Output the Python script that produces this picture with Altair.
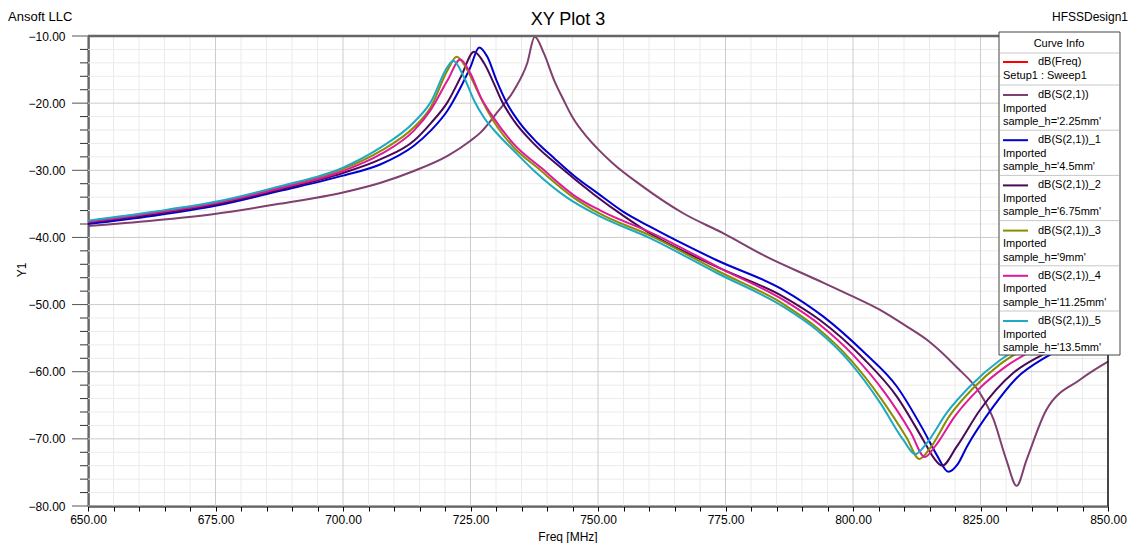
import altair as alt
import pandas as pd

# ---------------- data ----------------
F_225 = [650, 662.5, 674.8, 687.5, 700, 707.4, 713.9, 720.5, 725, 727, 730, 733.5, 736.1, 737.6,
         739.4, 741.4, 743.3, 745, 747.9, 750, 753.1, 758.2, 766.7, 774.6, 783.1, 792.9, 799.4, 805.3, 810, 815.1,
         820.3, 824.9, 827.5, 830.1, 832.1, 834.0, 837.9, 844.5, 850]
DB_225 = [-38.3, -37.5, -36.5, -35.0, -33.3, -31.85, -30.1, -27.85, -25.6, -24.35, -21.6, -18.1, -14.1, -10.1,
          -12.6, -16.6, -19.6, -22.1, -25.1, -26.85, -29.1, -32.1, -36.4, -39.4, -42.9, -46.3, -48.6, -50.8, -53.0, -55.6,
          -59.3, -63.2, -67.0, -73.2, -77.0, -73.2, -65.7, -61.2, -58.5]

F_45 = [650, 662.5, 675, 687.5, 700, 707.4, 713.9, 717.2, 720.5, 723.1, 725, 726.7, 728.3, 730.1, 732.2, 734.8,
        738.1, 741.4, 745.3, 749.9, 755, 760.2, 773.3, 786.3, 794.2, 802, 808.6, 813.8, 816.5, 818.7, 820.5, 822.3, 827.5,
        832, 837.9, 844, 850]
DB_45 = [-38.0, -36.8, -35.3, -33.1, -30.8, -29.1, -26.35, -24.1, -21.1, -17.6, -14.6, -11.7, -13.1, -16.6, -20.1, -23.1,
         -25.9, -28.2, -30.8, -33.4, -36.2, -38.4, -43.4, -47.8, -51.8, -57.0, -62.2, -68.7, -72.5, -74.9, -73.8, -71.2, -65.2,
         -61.0, -57.8, -55.5, -53.5]

F_675 = [650, 662.5, 675, 687.5, 700, 707.4, 713.9, 717.2, 720.5, 723.1, 725.7, 727.7, 729.6, 731, 733.5, 737.5,
         742.7, 749.2, 755, 760.2, 773.3, 786.3, 793.5, 802, 808.6, 813.8, 815.8, 817.5, 820.3, 824.9, 831.4, 836.6, 843, 850]
DB_675 = [-37.8, -36.6, -35.1, -32.9, -30.4, -28.35, -25.6, -23.0, -19.85, -16.1, -12.35, -14.1, -17.1, -19.5, -22.6, -26.1,
          -29.6, -33.6, -36.8, -39.4, -44.4, -48.8, -52.3, -58.0, -63.7, -70.2, -72.8, -74.0, -71.2, -65.7, -60.2, -57.7, -55.5, -53.5]

F_9 = [650, 662.5, 675, 687.5, 700, 707.4, 713.9, 717.2, 720.5, 722.3, 724.4, 726.3, 728.3, 730.3, 733.5, 738.1, 745.3,
       750, 760.5, 773.5, 786.5, 793, 799.5, 805.5, 810.5, 813, 815, 819, 823.5, 829, 835, 842, 850]
DB_9 = [-37.6, -36.3, -34.8, -32.5, -29.8, -27.1, -23.6, -20.6, -15.1, -13.1, -15.1, -18.1, -21.1, -23.6, -26.6, -29.6, -34.1,
        -36.3, -39.8, -45.0, -50.0, -53.5, -58.2, -64.0, -69.8, -73.0, -71.5, -66.5, -62.5, -58.8, -56.0, -53.5, -51.5]

F_1125 = [650, 662.5, 675, 687.5, 700, 707.4, 713.9, 717.2, 720.5, 723, 725, 727, 729, 733.5, 738.8, 746, 750.5, 761,
          774, 787, 793.5, 800, 806.3, 811.3, 814.1, 816, 820, 824.5, 830, 836, 843, 850]
DB_1125 = [-37.7, -36.4, -34.9, -32.7, -30.1, -27.6, -24.1, -21.0, -16.6, -13.5, -15.6, -19.1, -21.6, -26.1, -29.6, -34.1, -36.0, -39.5,
           -44.6, -49.6, -53.0, -57.5, -63.2, -69.0, -72.7, -71.2, -66.6, -62.7, -59.2, -56.5, -54.0, -52.0]

F_135 = [650, 662.5, 675, 687.5, 700, 707.4, 713.9, 717.2, 720.5, 721.6, 723.7, 725.7, 727.6, 730.3, 733.5, 737.5, 744,
         749.7, 760.2, 773.3, 786.3, 792.9, 799.4, 805.3, 809.9, 812.2, 814.4, 818.3, 822.9, 828.8, 835, 842, 850]
DB_135 = [-37.5, -36.2, -34.7, -32.4, -29.6, -26.6, -22.85, -19.85, -14.6, -13.7, -16.1, -19.6, -22.1, -24.6, -27.1, -30.1, -34.1,
          -36.6, -40.1, -45.3, -50.3, -53.8, -58.6, -64.6, -70.2, -72.3, -70.7, -66.2, -62.2, -58.3, -55.5, -53.0, -51.0]

SERIES_NAMES = ["dB(S(2,1))", "dB(S(2,1))_1", "dB(S(2,1))_2", "dB(S(2,1))_3", "dB(S(2,1))_4", "dB(S(2,1))_5"]
SERIES_LABELS = ["sample_h='2.25mm'", "sample_h='4.5mm'", "sample_h='6.75mm'", "sample_h='9mm'",
                 "sample_h='11.25mm'", "sample_h='13.5mm'"]
SERIES_COLORS = ["#7f3f6f", "#0000d0", "#4b0a55", "#8c8c00", "#e0189a", "#1fa9c2"]
SERIES_DATA = [(F_225, DB_225), (F_45, DB_45), (F_675, DB_675), (F_9, DB_9), (F_1125, DB_1125), (F_135, DB_135)]

X_TICKS_MAJOR = [650, 675, 700, 725, 750, 775, 800, 825, 850]
Y_TICKS_MAJOR = [-80, -70, -60, -50, -40, -30, -20, -10]

rows = []
for name, (fs, vs) in zip(SERIES_NAMES, SERIES_DATA):
    for f, v in zip(fs, vs):
        rows.append({"series": name, "freq": f, "db": v})
df = pd.DataFrame(rows)

FONT = "Liberation Sans"
PL, PT = 88, 36  # plot origin in page pixels (used for decorations only)

xs = alt.Scale(domain=[650, 850], nice=False, zero=False)
ys = alt.Scale(domain=[-80, -10], nice=False, zero=False)
one = pd.DataFrame({"k": [0]})

AX_X = alt.Axis(
    values=list(range(650, 851, 5)),
    labelExpr="datum.value % 25 == 0 ? format(datum.value, '.2f') : ''",
    tickSize=5, tickColor="black", domainColor="black", domainWidth=2, grid=False,
    labelFont=FONT, labelFontSize=12, labelColor="black", labelPadding=3,
    labelOverlap=False, labelFlush=False, labelBound=False, title=None)
AX_Y = alt.Axis(
    values=Y_TICKS_MAJOR, format=".2f", ticks=False, domainColor="black", domainWidth=2, grid=False,
    labelFont=FONT, labelFontSize=12, labelColor="black", labelPadding=23,
    labelOverlap=False, labelFlush=False, labelBound=False, title=None)


def X(field):
    return alt.X(field, scale=xs, axis=AX_X, title=None)


def Y(field):
    return alt.Y(field, scale=ys, axis=AX_Y, title=None)


x_minor = [v for v in range(650, 851, 5) if v % 25 != 0]
y_minor = [v for v in range(-80, -9, 2) if v % 10 != 0]

layers = []
# grid
layers.append(alt.Chart(pd.DataFrame({"v": x_minor})).mark_rule(color="#ebebeb", strokeWidth=1)
              .encode(x=X("v:Q")))
layers.append(alt.Chart(pd.DataFrame({"v": y_minor})).mark_rule(color="#ebebeb", strokeWidth=1)
              .encode(y=Y("v:Q")))
layers.append(alt.Chart(pd.DataFrame({"v": X_TICKS_MAJOR})).mark_rule(color="#cccccc", strokeWidth=1)
              .encode(x=X("v:Q")))
layers.append(alt.Chart(pd.DataFrame({"v": Y_TICKS_MAJOR})).mark_rule(color="#cccccc", strokeWidth=1)
              .encode(y=Y("v:Q")))

# curves
lines = alt.Chart(df).mark_line(strokeWidth=2, interpolate="monotone").encode(
    x=X("freq:Q"),
    y=Y("db:Q"),
    color=alt.Color("series:N", scale=alt.Scale(domain=SERIES_NAMES, range=SERIES_COLORS), legend=None),
)
layers.append(lines)

# y ticks (major long, minor short)
layers.append(alt.Chart(pd.DataFrame({"v": Y_TICKS_MAJOR})).mark_rule(color="#555555", strokeWidth=1)
              .encode(y=Y("v:Q"), x=alt.value(-16), x2=alt.value(0)))
layers.append(alt.Chart(pd.DataFrame({"v": y_minor})).mark_rule(color="#333333", strokeWidth=1)
              .encode(y=Y("v:Q"), x=alt.value(-8), x2=alt.value(0)))

# borders
layers.append(alt.Chart(one).mark_rule(color="#666666", strokeWidth=2.5)
              .encode(x=alt.value(0), x2=alt.value(1020), y=alt.value(0)))
layers.append(alt.Chart(one).mark_rule(color="#111111", strokeWidth=1.5)
              .encode(x=alt.value(1020), y=alt.value(0), y2=alt.value(470)))


def txt(s, x, y, size=11, align="left", angle=0):
    return alt.Chart(one).mark_text(text=s, font=FONT, fontSize=size, align=align, baseline="middle",
                                    color="black", angle=angle).encode(
        x=alt.value(x - PL), y=alt.value(y - PT))


def hline(x1, x2, y, color, w=1):
    return alt.Chart(one).mark_rule(color=color, strokeWidth=w).encode(
        x=alt.value(x1 - PL), x2=alt.value(x2 - PL), y=alt.value(y - PT))


# titles and labels
layers.append(txt("XY Plot 3", 568, 20, size=18, align="center"))
layers.append(txt("Ansoft LLC", 8, 17, size=13))
layers.append(txt("HFSSDesign1", 1128, 17, size=12, align="right"))
layers.append(txt("Freq [MHz]", 568, 537, size=12, align="center"))
layers.append(txt("Y1", 22, 270, size=12, align="center", angle=270))

# legend box ("Curve Info")
LX1, LX2, LY1, LY2 = 999, 1120, 32, 355
layers.append(alt.Chart(one).mark_rect(fill="white", stroke="#444444", strokeWidth=1).encode(
    x=alt.value(LX1 - PL), x2=alt.value(LX2 - PL), y=alt.value(LY1 - PT), y2=alt.value(LY2 - PT)))
layers.append(txt("Curve Info", 1059, 44, size=11, align="center"))
layers.append(hline(LX1 + 1, LX2 - 1, 53, "#c8c8c8"))
layers.append(hline(1003, 1028, 62, "#ff0000", 2))
layers.append(txt("dB(Freq)", 1038, 62))
layers.append(txt("Setup1 : Sweep1", 1003, 76))
layers.append(hline(LX1 + 1, LX2 - 1, 85, "#c8c8c8"))
for i, (name, lab, col) in enumerate(zip(SERIES_NAMES, SERIES_LABELS, SERIES_COLORS)):
    top = 85 + 45.2 * i
    layers.append(hline(1003, 1028, top + 10, col, 2))
    layers.append(txt(name, 1038, top + 10))
    layers.append(txt("Imported", 1003, top + 23.5))
    layers.append(txt(lab, 1003, top + 37))
    if i < 5:
        layers.append(hline(LX1 + 1, LX2 - 1, top + 45.2, "#c8c8c8"))

chart = alt.layer(*layers).properties(
    width=1020, height=470,
    autosize=alt.AutoSizeParams(type="none"),
    padding={"left": 80, "top": 28, "right": 20, "bottom": 37},
).configure_view(stroke=None)

chart.save("out.html", embed_options={"renderer": "svg", "actions": False})
